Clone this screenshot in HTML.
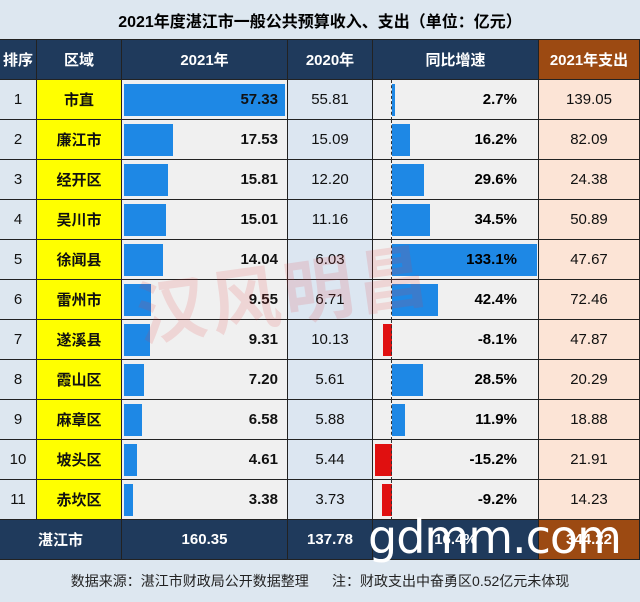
<!DOCTYPE html>
<html><head><meta charset="utf-8"><style>
*{margin:0;padding:0;box-sizing:border-box}
body{width:640px;height:602px;overflow:hidden;background:#dde7f0;font-family:"Liberation Sans","Noto Sans CJK SC",sans-serif;position:relative}
.c{position:absolute;display:flex;align-items:center;justify-content:center;border-right:1px solid #222;border-bottom:1px solid #222;font-size:15px;color:#111}
.t{position:absolute;left:0;top:0;width:640px;height:40px;display:flex;align-items:center;justify-content:center;font-weight:bold;font-size:16px;background:#dde7f0;border-bottom:1px solid #222}
.b{position:absolute;background:#1e88e5}
.r{position:absolute;background:#e01010}
</style></head><body>
<div class="t">2021年度湛江市一般公共预算收入、支出（单位：亿元）</div>
<div id="g"></div>
<div style="position:absolute;left:0;top:560px;width:640px;height:42px;display:flex;align-items:center;justify-content:center;font-size:14px;color:#222;background:#dde7f0">数据来源：湛江市财政局公开数据整理&nbsp;&nbsp;&nbsp;&nbsp;&nbsp;&nbsp;注：财政支出中奋勇区0.52亿元未体现</div>
<div style="position:absolute;left:135px;top:240px;font-size:70px;font-weight:bold;color:rgba(230,60,60,0.15);letter-spacing:4px;transform:rotate(-8deg)">汉风明昌</div>
<div style="position:absolute;left:368px;top:510px;font-size:46px;color:#fff;font-family:'DejaVu Sans',sans-serif;letter-spacing:-1px;white-space:nowrap">gdmm.com</div>
<script>
var X=[0,37,122,288,373,539,640];
var d=[["1","市直",57.33,"55.81",2.7,"139.05"],["2","廉江市",17.53,"15.09",16.2,"82.09"],["3","经开区",15.81,"12.20",29.6,"24.38"],["4","吴川市",15.01,"11.16",34.5,"50.89"],["5","徐闻县",14.04,"6.03",133.1,"47.67"],["6","雷州市",9.55,"6.71",42.4,"72.46"],["7","遂溪县",9.31,"10.13",-8.1,"47.87"],["8","霞山区",7.20,"5.61",28.5,"20.29"],["9","麻章区",6.58,"5.88",11.9,"18.88"],["10","坡头区",4.61,"5.44",-15.2,"21.91"],["11","赤坎区",3.38,"3.73",-9.2,"14.23"]];
var h="";
function cell(i,y,hh,txt,st){h+='<div class="c" style="left:'+X[i]+'px;top:'+y+'px;width:'+(X[i+1]-X[i])+'px;height:'+hh+'px;'+st+'">'+txt+'</div>';}
var hd=["排序","区域","2021年","2020年","同比增速","2021年支出"];
for(var i=0;i<6;i++)cell(i,40,40,hd[i],"background:"+(i==5?"#9c4a12":"#1f3a5c")+";color:#fff;font-weight:bold;");
d.forEach(function(r,k){var y=80+k*40;
cell(0,y,40,r[0],"background:#dde7f0;");
cell(1,y,40,r[1],"background:#ffff00;font-weight:bold;");
cell(2,y,40,"","background:#f0f0f0;");
h+='<div class="b" style="left:124px;top:'+(y+4)+'px;width:'+(r[2]/57.33*161)+'px;height:32px"></div>';
h+='<div style="position:absolute;left:122px;width:156px;top:'+y+'px;height:40px;line-height:40px;text-align:right;font-weight:bold;font-size:15px;color:#111">'+r[2].toFixed(2)+'</div>';
cell(3,y,40,r[3],"background:#dce6f1;");
cell(4,y,40,"","background:#f0f0f0;");
if(r[4]>=0)h+='<div class="b" style="left:392px;top:'+(y+4)+'px;width:'+Math.max(2,r[4]*1.09)+'px;height:32px"></div>';
else h+='<div class="r" style="left:'+(392+r[4]*1.1)+'px;top:'+(y+4)+'px;width:'+(-r[4]*1.1)+'px;height:32px"></div>';
h+='<div style="position:absolute;left:373px;width:144px;top:'+y+'px;height:40px;line-height:40px;text-align:right;font-weight:bold;font-size:15px">'+r[4].toFixed(1)+'%</div>';
h+='<div style="position:absolute;left:391px;top:'+y+'px;width:1px;height:40px;border-left:1px dashed #333"></div>';
cell(5,y,40,r[5],"background:#fce4d6;");
});
h+='<div class="c" style="left:0;top:520px;width:122px;height:40px;background:#1f3a5c;color:#fff;font-weight:bold">湛江市</div>';
cell(2,520,40,"160.35","background:#1f3a5c;color:#fff;font-weight:bold;");
cell(3,520,40,"137.78","background:#1f3a5c;color:#fff;font-weight:bold;");
cell(4,520,40,"16.4%","background:#1f3a5c;color:#fff;font-weight:bold;");
cell(5,520,40,"344.22","background:#9c4a12;color:#fff;font-weight:bold;");
document.getElementById("g").innerHTML=h;
</script>
</body></html>
